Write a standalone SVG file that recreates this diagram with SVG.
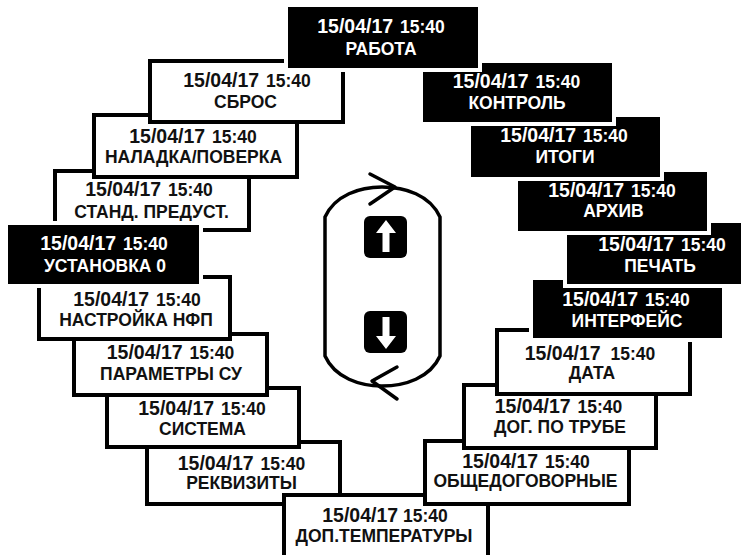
<svg xmlns="http://www.w3.org/2000/svg" width="748" height="555" viewBox="0 0 748 555">
<style>
.wb{fill:#fff;stroke:#000;stroke-width:4}
.bb{fill:#000;stroke:#fff;stroke-width:8;paint-order:stroke}
.t{font-family:"Liberation Sans",Arial,sans-serif;font-weight:bold;text-anchor:middle}
.d{font-size:19.5px}
.tm{font-size:17.5px}
.l{font-size:17.5px}
.wt{fill:#fff}
.kt{fill:#111}
.loop{fill:none;stroke:#000;stroke-width:3.5;stroke-linejoin:round;stroke-linecap:round}
</style>
<rect width="748" height="555" fill="#fff"/>

<g id="rekvizity">
<rect class="wb" x="147" y="442" width="193" height="62"/>
<text class="t kt" x="241.5" y="470"><tspan class="d">15/04/17</tspan><tspan class="tm" dx="2"> 15:40</tspan></text>
<text class="t kt l" x="241.5" y="489">РЕКВИЗИТЫ</text>
</g>
<g id="sistema">
<rect class="wb" x="107" y="388" width="192" height="59"/>
<text class="t kt" x="202" y="415"><tspan class="d">15/04/17</tspan><tspan class="tm" dx="2"> 15:40</tspan></text>
<text class="t kt l" x="202.5" y="435">СИСТЕМА</text>
</g>
<g id="parametry">
<rect class="wb" x="74" y="334" width="193" height="61"/>
<text class="t kt" x="170.5" y="359"><tspan class="d">15/04/17</tspan><tspan class="tm" dx="2"> 15:40</tspan></text>
<text class="t kt l" x="171" y="380">ПАРАМЕТРЫ СУ</text>
</g>
<g id="nastroika">
<rect class="wb" x="39" y="277" width="191" height="62"/>
<text class="t kt" x="137" y="306"><tspan class="d">15/04/17</tspan><tspan class="tm" dx="2"> 15:40</tspan></text>
<text class="t kt l" x="136" y="326">НАСТРОЙКА НФП</text>
</g>
<g id="stand">
<rect class="wb" x="55" y="171" width="194" height="59"/>
<text class="t kt" x="149" y="196"><tspan class="d">15/04/17</tspan><tspan class="tm" dx="2"> 15:40</tspan></text>
<text class="t kt l" x="151.5" y="218">СТАНД. ПРЕДУСТ.</text>
</g>
<g id="ustanovka">
<rect class="bb" x="8" y="225" width="191" height="59"/>
<text class="t wt" x="104" y="250"><tspan class="d">15/04/17</tspan><tspan class="tm" dx="2"> 15:40</tspan></text>
<text class="t wt l" x="105" y="272">УСТАНОВКА 0</text>
</g>
<g id="naladka">
<rect class="wb" x="94" y="115" width="203" height="62"/>
<text class="t kt" x="193" y="143"><tspan class="d">15/04/17</tspan><tspan class="tm" dx="2"> 15:40</tspan></text>
<text class="t kt l" x="193.5" y="163">НАЛАДКА/ПОВЕРКА</text>
</g>
<g id="dop-temp">
<rect class="wb" x="284" y="495" width="204" height="63"/>
<text class="t kt" x="385" y="522"><tspan class="d">15/04/17</tspan><tspan class="tm"> 15:40</tspan></text>
<text class="t kt l" x="384" y="542">ДОП.ТЕМПЕРАТУРЫ</text>
</g>
<g id="obshchedog">
<rect class="wb" x="425" y="441" width="204" height="63"/>
<text class="t kt" x="526" y="468"><tspan class="d">15/04/17</tspan><tspan class="tm" dx="2"> 15:40</tspan></text>
<text class="t kt l" x="525.5" y="487">ОБЩЕДОГОВОРНЫЕ</text>
</g>
<g id="dog-truba">
<rect class="wb" x="464" y="385" width="192" height="63"/>
<text class="t kt" x="558.5" y="413"><tspan class="d">15/04/17</tspan><tspan class="tm" dx="2"> 15:40</tspan></text>
<text class="t kt l" x="560" y="433">ДОГ. ПО ТРУБЕ</text>
</g>
<g id="data">
<rect class="wb" x="497" y="330" width="193" height="64"/>
<text class="t kt" x="590" y="360"><tspan class="d">15/04/17</tspan><tspan class="tm" dx="5"> 15:40</tspan></text>
<text class="t kt l" x="592" y="379">ДАТА</text>
</g>
<g id="interfeis">
<rect class="bb" x="533" y="280" width="189" height="58"/>
<text class="t wt" x="626" y="306"><tspan class="d">15/04/17</tspan><tspan class="tm" dx="2"> 15:40</tspan></text>
<text class="t wt l" x="627" y="327">ИНТЕРФЕЙС</text>
</g>
<g id="pechat">
<rect class="bb" x="567" y="223" width="174" height="61"/>
<text class="t wt" x="662" y="251"><tspan class="d">15/04/17</tspan><tspan class="tm" dx="2"> 15:40</tspan></text>
<text class="t wt l" x="660" y="272">ПЕЧАТЬ</text>
</g>
<g id="arhiv">
<rect class="bb" x="518" y="172" width="189" height="59"/>
<text class="t wt" x="612" y="197"><tspan class="d">15/04/17</tspan><tspan class="tm" dx="2"> 15:40</tspan></text>
<text class="t wt l" x="613.5" y="217">АРХИВ</text>
</g>
<g id="itogi">
<rect class="bb" x="471" y="117" width="189" height="60"/>
<text class="t wt" x="564" y="142"><tspan class="d">15/04/17</tspan><tspan class="tm" dx="2"> 15:40</tspan></text>
<text class="t wt l" x="565" y="163">ИТОГИ</text>
</g>
<g id="kontrol">
<rect class="bb" x="423" y="63" width="189" height="59"/>
<text class="t wt" x="516.5" y="88"><tspan class="d">15/04/17</tspan><tspan class="tm" dx="2"> 15:40</tspan></text>
<text class="t wt l" x="517" y="109">КОНТРОЛЬ</text>
</g>
<g id="sbros">
<rect class="wb" x="150" y="61" width="193" height="61"/>
<text class="t kt" x="247" y="87"><tspan class="d">15/04/17</tspan><tspan class="tm" dx="2"> 15:40</tspan></text>
<text class="t kt l" x="245.5" y="108">СБРОС</text>
</g>
<g id="rabota">
<rect class="bb" x="288" y="7" width="190" height="61"/>
<text class="t wt" x="381" y="33"><tspan class="d">15/04/17</tspan><tspan class="tm" dx="2"> 15:40</tspan></text>
<text class="t wt l" x="381" y="55">РАБОТА</text>
</g>

<g id="connectors">
<path class="loop" d="M325,217 C335,195 360,187 382,187 C405,187 430,195 440,217 L440,356 C430,378 405,386 382,386 C360,386 335,378 325,356 Z"/>
<path class="loop" d="M370,174 L395,187 L370,204"/>
<path class="loop" d="M397,367 L372,381 L397,399"/>
</g>

<g id="key-up">
<rect x="364" y="216" width="43" height="42" rx="6" fill="#000"/>
<polygon points="386,220 396,233 389.5,233 389.5,252 382.5,252 382.5,233 376,233" fill="#fff"/>
</g>
<g id="key-down">
<rect x="364" y="311" width="43" height="42" rx="6" fill="#000"/>
<polygon points="382.5,317 389.5,317 389.5,336 396,336 386,349 376,336 382.5,336" fill="#fff"/>
</g>
</svg>
